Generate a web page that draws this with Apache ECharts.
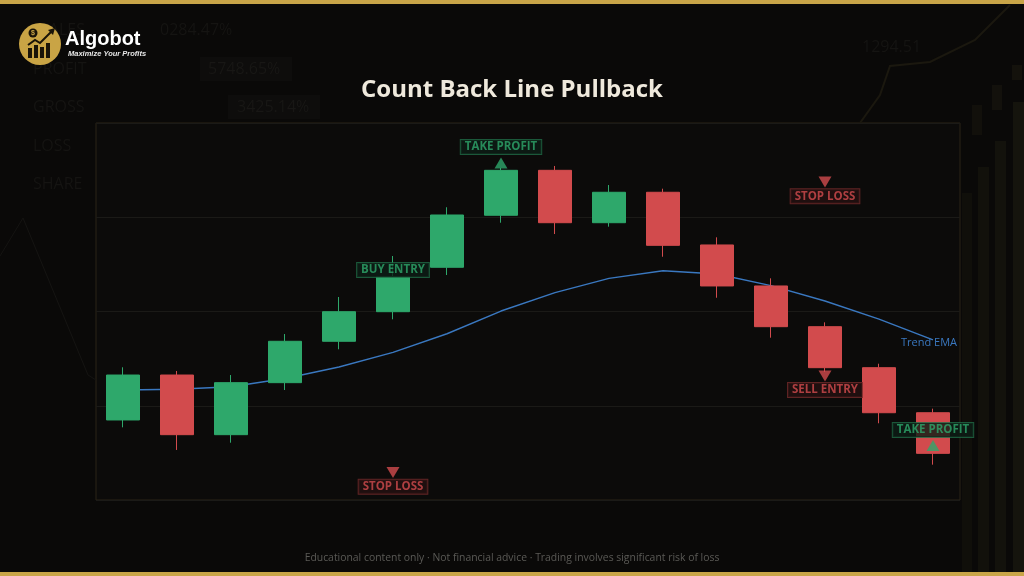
<!DOCTYPE html>
<html>
<head>
<meta charset="utf-8">
<script src="https://cdn.jsdelivr.net/npm/echarts@6/dist/echarts.min.js"></script>
<style>
html,body{margin:0;padding:0;background:#0a0908;}
#chart{width:1024px;height:576px;}
</style>
</head>
<body>
<div id="chart"></div>
<script>
// ---- data ----
var categories = ['C1','C2','C3','C4','C5','C6','C7','C8','C9','C10','C11','C12','C13','C14','C15','C16'];
var opens  = [108.49,113.26,106.93,112.45,116.84,119.98,124.69,130.21,134.98,129.42,132.65,127.06,122.71,118.39,114.04,109.26];
var closes = [113.26,106.93,112.45,116.84,119.98,123.69,130.24,134.98,129.42,132.65,127.02,122.71,118.39,114.04,109.26,104.95];
var lows   = [107.71,105.31,106.08,111.67,115.99,119.17,123.87,129.42,128.22,129.00,125.81,121.46,117.22,113.58,108.14,103.75];
var highs  = [114.08,113.69,113.26,117.61,121.54,125.89,131.06,135.23,135.44,133.42,133.03,127.87,123.52,118.85,114.46,109.69];
var emaValues = [111.67,111.75,112.01,112.89,114.11,115.67,117.64,120.05,122.00,123.52,124.33,123.98,122.74,121.11,119.20,116.98];

// signal arrows: candle index, price level
var upArrowIdx = [7, 15];
var upArrowVal = [135.76, 105.78];
var downArrowIdx = [5, 13, 13];
var downArrowVal = [102.92, 133.74, 113.16];

// signal labels
var greenLabelIdx = [7, 5, 15];
var greenLabelVal = [137.45, 124.40, 107.43];
var greenLabelText = ['TAKE PROFIT', 'BUY ENTRY', 'TAKE PROFIT'];
var redLabelIdx = [5, 13, 13];
var redLabelVal = [101.41, 132.22, 111.67];
var redLabelText = ['STOP LOSS', 'STOP LOSS', 'SELL ENTRY'];

var yTicks = [100, 110, 120, 130, 140];
var titleText = 'Count Back Line Pullback';
var emaName = 'Trend EMA';
var footerText = 'Educational content only \u00b7 Not financial advice \u00b7 Trading involves significant risk of loss';

// ---- build ----
var GREEN = '#2ea86b', RED = '#d24b4d', EMA = '#3a78c0';
var candleData = categories.map(function(c, i){ return [opens[i], closes[i], lows[i], highs[i]]; });
function pts(idx, val, names){ return idx.map(function(x, i){ var o = {value:[x, val[i]]}; if(names) o.name = names[i]; return o; }); }

var chart = echarts.init(document.getElementById('chart'), null, {renderer:'canvas'});

var wm = '#151412';
var graphics = [
  // gold bars
  {type:'rect', shape:{x:0,y:0,width:1024,height:4}, style:{fill:'#c9a548'}, z:10},
  {type:'rect', shape:{x:0,y:572,width:1024,height:4}, style:{fill:'#c9a548'}, z:10},
  // watermark texts
  {type:'text', x:40, y:30, style:{text:'SALES', fill:wm, font:'16px "Open Sans"', textVerticalAlign:'middle'}, z:0},
  {type:'text', x:160, y:30, style:{text:'0284.47%', fill:wm, font:'16px "Open Sans"', textVerticalAlign:'middle'}, z:0},
  {type:'text', x:33, y:69, style:{text:'PROFIT', fill:wm, font:'16px "Open Sans"', textVerticalAlign:'middle'}, z:0},
  {type:'rect', shape:{x:200,y:57,width:92,height:24}, style:{fill:'#0e0d0c'}, z:0},
  {type:'text', x:208, y:69, style:{text:'5748.65%', fill:'#181715', font:'16px "Open Sans"', textVerticalAlign:'middle'}, z:0},
  {type:'text', x:33, y:107, style:{text:'GROSS', fill:wm, font:'16px "Open Sans"', textVerticalAlign:'middle'}, z:0},
  {type:'rect', shape:{x:228,y:95,width:92,height:24}, style:{fill:'#0e0d0c'}, z:0},
  {type:'text', x:237, y:107, style:{text:'3425.14%', fill:'#181715', font:'16px "Open Sans"', textVerticalAlign:'middle'}, z:0},
  {type:'text', x:33, y:146, style:{text:'LOSS', fill:wm, font:'16px "Open Sans"', textVerticalAlign:'middle'}, z:0},
  {type:'text', x:33, y:184, style:{text:'SHARE', fill:wm, font:'16px "Open Sans"', textVerticalAlign:'middle'}, z:0},
  {type:'text', x:862, y:47, style:{text:'1294.51', fill:wm, font:'16px "Open Sans"', textVerticalAlign:'middle'}, z:0},
  // faint lines
  {type:'polyline', shape:{points:[[0,256],[23,218],[88,375],[96,380]]}, style:{stroke:'#151412', lineWidth:1, fill:null}, z:0},
  {type:'polyline', shape:{points:[[860,123],[880,95],[890,66],[930,62],[975,40],[1010,5]]}, style:{stroke:'#1b180f', lineWidth:2, fill:null}, z:0},
  // faint right bars
  {type:'rect', shape:{x:962,y:193,width:10,height:379}, style:{fill:'#100f0a'}, z:0},
  {type:'rect', shape:{x:978,y:167,width:11,height:405}, style:{fill:'#12110b'}, z:0},
  {type:'rect', shape:{x:995,y:141,width:11,height:431}, style:{fill:'#13120c'}, z:0},
  {type:'rect', shape:{x:1013,y:102,width:11,height:470}, style:{fill:'#15140d'}, z:0},
  {type:'rect', shape:{x:972,y:105,width:10,height:30}, style:{fill:'#12100b'}, z:0},
  {type:'rect', shape:{x:992,y:85,width:10,height:25}, style:{fill:'#13110c'}, z:0},
  {type:'rect', shape:{x:1012,y:65,width:10,height:15}, style:{fill:'#14120c'}, z:0},
  // logo
  {type:'circle', shape:{cx:40,cy:44,r:21}, style:{fill:'#c9a445'}, z:10},
  {type:'rect', shape:{x:28,y:48,width:4,height:10}, style:{fill:'#1a1408'}, z:11},
  {type:'rect', shape:{x:34,y:45,width:4,height:13}, style:{fill:'#1a1408'}, z:11},
  {type:'rect', shape:{x:40,y:47,width:4,height:11}, style:{fill:'#1a1408'}, z:11},
  {type:'rect', shape:{x:46,y:43,width:4,height:15}, style:{fill:'#1a1408'}, z:11},
  {type:'polyline', shape:{points:[[28,45],[35,40],[40,43],[52,31]]}, style:{stroke:'#1a1408', lineWidth:2, fill:null}, z:11},
  {type:'polygon', shape:{points:[[48,30],[55,28],[53,35]]}, style:{fill:'#1a1408'}, z:11},
  {type:'circle', shape:{cx:33,cy:33,r:4.5}, style:{fill:'#1a1408'}, z:11},
  {type:'text', x:33, y:33, style:{text:'$', fill:'#c9a445', font:'bold 7px "Liberation Sans"', textAlign:'center', textVerticalAlign:'middle'}, z:12},
  {type:'text', x:65, y:39, style:{text:'Algobot', fill:'#ffffff', font:'bold 20px "Liberation Sans"', textVerticalAlign:'middle'}, z:10},
  {type:'text', x:68, y:54, style:{text:'Maximize Your Profits', fill:'#e8e8e8', font:'italic bold 7.5px "Liberation Sans"', textVerticalAlign:'middle'}, z:10},
  // footer
  {type:'text', x:512, y:558, style:{text:footerText, fill:'#5b5a56', font:'10.4px "Open Sans"', textAlign:'center', textVerticalAlign:'middle'}, z:10}
];

var labelCommon = {
  show:true, position:'inside', fontFamily:'Open Sans', fontWeight:'bold', fontSize:11.5,
  lineHeight:13, padding:[1,4,0,4], borderWidth:1,
  formatter:function(p){ return p.name; }
};

var option = {
  backgroundColor:'#0a0908',
  animation:false,
  title:{ text:titleText, left:'center', top:73,
    textStyle:{ color:'#efe9dc', fontSize:24, fontWeight:'bold', fontFamily:'Open Sans' } },
  grid:{ left:96, right:64, top:123, bottom:76, show:true, backgroundColor:'#0c0b0a', borderColor:'#2a2517', borderWidth:1 },
  xAxis:{ type:'category', data:categories, boundaryGap:true,
    axisLine:{show:false}, axisTick:{show:false}, axisLabel:{show:false}, splitLine:{show:false} },
  yAxis:{ type:'value', min:yTicks[0], max:yTicks[yTicks.length-1], interval:10,
    axisLine:{show:false}, axisTick:{show:false}, axisLabel:{show:false},
    splitLine:{ show:true, lineStyle:{ color:'#1b1a17', width:1 } } },
  graphic: graphics,
  series:[
    { name:emaName, type:'line', data:emaValues, symbol:'none', z:2,
      lineStyle:{ color:EMA, width:1.4 },
      endLabel:{ show:true, formatter:emaName, color:EMA, fontFamily:'Open Sans', fontSize:11, distance:0, offset:[-32,3] } },
    { type:'candlestick', data:candleData, barWidth:33, z:3,
      itemStyle:{ color:GREEN, color0:RED, borderColor:GREEN, borderColor0:RED, borderWidth:1 } },
    { type:'scatter', data:pts(upArrowIdx, upArrowVal), symbol:'triangle', symbolSize:[13,11], z:5,
      itemStyle:{ color:GREEN } },
    { type:'scatter', data:pts(downArrowIdx, downArrowVal), symbol:'triangle', symbolRotate:180, symbolSize:[13,11], z:5,
      itemStyle:{ color:RED } },
    { type:'scatter', data:pts(greenLabelIdx, greenLabelVal, greenLabelText), symbolSize:1, z:6,
      itemStyle:{ color:'rgba(0,0,0,0)' },
      label:Object.assign({}, labelCommon, { color:GREEN, backgroundColor:'#0d1d15', borderColor:'#1f6b46' }) },
    { type:'scatter', data:pts(redLabelIdx, redLabelVal, redLabelText), symbolSize:1, z:6,
      itemStyle:{ color:'rgba(0,0,0,0)' },
      label:Object.assign({}, labelCommon, { color:RED, backgroundColor:'#241010', borderColor:'#742b2b' }) }
  ]
};
chart.setOption(option);
</script>
</body>
</html>
